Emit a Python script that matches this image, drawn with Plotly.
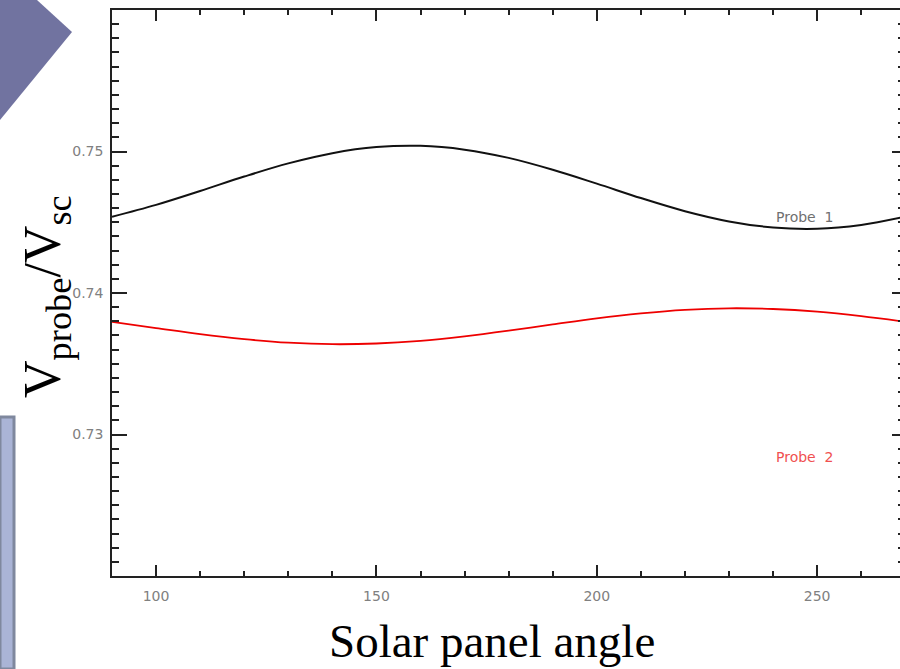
import plotly.graph_objects as go

# ---- data ----
angle = [90, 100, 110, 120, 130, 140, 150, 160, 170, 180,
         190, 200, 210, 220, 230, 240, 250, 260, 270]
probe1 = [0.74539, 0.74623, 0.74721, 0.74823, 0.74916, 0.74988, 0.75031, 0.75040,
          0.75013, 0.74955, 0.74871, 0.74773, 0.74671, 0.74578, 0.74506, 0.74463,
          0.74454, 0.74481, 0.74539]
probe2 = [0.73796, 0.73752, 0.73709, 0.73674, 0.73649, 0.73638, 0.73643, 0.73662,
          0.73694, 0.73734, 0.73778, 0.73821, 0.73856, 0.73881, 0.73892, 0.73887,
          0.73868, 0.73836, 0.73796]
x_ticks = [100, 150, 200, 250]
y_ticks = [0.73, 0.74, 0.75]
y_ticktext = ["0.73", "0.74", "0.75"]
series_names = ["Probe 1", "Probe 2"]

fig = go.Figure()
fig.add_trace(go.Scatter(x=angle, y=probe1, mode="lines", name=series_names[0],
                         line=dict(color="#111111", width=2, shape="spline")))
fig.add_trace(go.Scatter(x=angle, y=probe2, mode="lines", name=series_names[1],
                         line=dict(color="#ee0000", width=1.8, shape="spline")))
# invisible trace to activate the right-hand tick axis
fig.add_trace(go.Scatter(x=[angle[0]], y=[probe1[0]], yaxis="y2", mode="lines",
                         showlegend=False, hoverinfo="skip", line=dict(width=0)))

tickfont = dict(family="DejaVu Sans", size=14, color="#808080")

fig.update_layout(
    width=900, height=669,
    margin=dict(l=112, r=0, t=10, b=93),
    paper_bgcolor="white", plot_bgcolor="white",
    showlegend=False,
    xaxis=dict(range=[90, 268.8], tickvals=x_ticks, ticks="inside", ticklen=11,
               tickwidth=1.5, tickcolor="#222", showline=True, linecolor="#222",
               linewidth=1.5, mirror="ticks", showgrid=False, zeroline=False,
               tickfont=tickfont, ticklabelstandoff=6,
               minor=dict(dtick=10, tick0=90, ticks="inside", ticklen=5,
                          tickwidth=1.5, tickcolor="#222", showgrid=False)),
    yaxis=dict(range=[0.72, 0.76], tickvals=y_ticks, ticktext=y_ticktext,
               ticks="inside", ticklen=15, tickwidth=1.5, tickcolor="#222",
               showline=True, linecolor="#222", linewidth=1.5, mirror=False,
               showgrid=False, zeroline=False, tickfont=tickfont,
               ticklabelstandoff=4,
               minor=dict(dtick=0.001, tick0=0.72, ticks="inside", ticklen=7,
                          tickwidth=1.5, tickcolor="#222", showgrid=False)),
    yaxis2=dict(overlaying="y", side="right", matches="y", tickvals=y_ticks,
                showticklabels=False, ticks="inside", ticklen=8, tickwidth=1.5,
                tickcolor="#222", showline=False, showgrid=False, zeroline=False,
                minor=dict(dtick=0.001, tick0=0.72, ticks="inside", ticklen=2,
                           tickwidth=1.5, tickcolor="#222", showgrid=False)),
)

# curve labels
fig.add_annotation(x=247.2, y=0.74535, text="Probe\u00a0 1", showarrow=False,
                   font=dict(family="DejaVu Sans", size=14, color="#707070"))
fig.add_annotation(x=247.2, y=0.72838, text="Probe\u00a0 2", showarrow=False,
                   font=dict(family="DejaVu Sans", size=14, color="#f05050"))

# axis titles (slide text)
fig.add_annotation(xref="paper", yref="paper", x=(492 - 112) / 788, y=-(641 - 576) / 566,
                   text="Solar panel angle", showarrow=False, yanchor="middle",
                   font=dict(family="Liberation Serif", size=47, color="black"))
fig.add_annotation(xref="paper", yref="paper", x=-(112 - 46) / 788, y=(576 - 297) / 566,
                   text="V<sub>probe</sub>/V<sub>sc</sub>", showarrow=False, textangle=-90,
                   xanchor="center", yanchor="middle",
                   font=dict(family="Liberation Serif", size=52, color="black"))

# slide decorations
fig.add_shape(type="path", xref="paper", yref="paper",
              path="M %f,%f L %f,%f L %f,%f L %f,%f Z" % (
                  -112 / 788, (576 + 0) / 566, -(112 - 37) / 788, 576 / 566,
                  -(112 - 72) / 788, (576 - 32) / 566, -112 / 788, (576 - 120) / 566),
              fillcolor="#7173a0", line=dict(width=0), layer="above")
fig.add_shape(type="rect", xref="paper", yref="paper",
              x0=-112 / 788, x1=-(112 - 14) / 788, y0=-93 / 566, y1=(576 - 417) / 566,
              fillcolor="#aab4d6", line=dict(color="#7f889e", width=3), layer="above")

fig.write_html("out.html")
